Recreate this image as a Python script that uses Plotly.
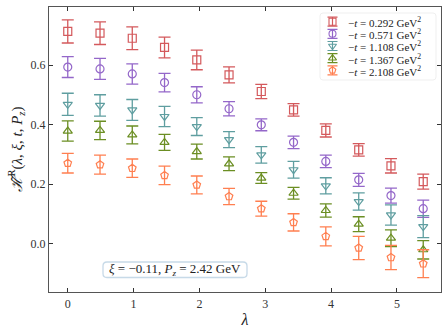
import plotly.graph_objects as go

lam = [0.0, 0.49, 0.98, 1.47, 1.96, 2.45, 2.94, 3.43, 3.92, 4.42, 4.91, 5.40]

labels = ["0.292", "0.571", "1.108", "1.367", "2.108"]

y_292 = [0.713, 0.707, 0.690, 0.659, 0.617, 0.567, 0.511, 0.449, 0.380, 0.315, 0.261, 0.208]
e_292 = [0.039, 0.038, 0.038, 0.035, 0.033, 0.027, 0.024, 0.021, 0.022, 0.021, 0.024, 0.025]

y_571 = [0.593, 0.587, 0.570, 0.541, 0.500, 0.453, 0.399, 0.340, 0.276, 0.214, 0.161, 0.117]
e_571 = [0.035, 0.035, 0.034, 0.031, 0.027, 0.024, 0.020, 0.021, 0.021, 0.022, 0.025, 0.029]

y_1108 = [0.468, 0.464, 0.449, 0.427, 0.393, 0.349, 0.298, 0.248, 0.194, 0.141, 0.096, 0.057]
e_1108 = [0.037, 0.036, 0.035, 0.034, 0.030, 0.027, 0.028, 0.028, 0.027, 0.029, 0.034, 0.037]

y_1367 = [0.378, 0.380, 0.365, 0.340, 0.309, 0.268, 0.220, 0.169, 0.111, 0.065, 0.018, -0.021]
e_1367 = [0.034, 0.031, 0.030, 0.027, 0.025, 0.023, 0.018, 0.020, 0.022, 0.025, 0.028, 0.031]

y_2108 = [0.270, 0.265, 0.253, 0.229, 0.197, 0.158, 0.117, 0.071, 0.024, -0.015, -0.047, -0.068]
e_2108 = [0.033, 0.032, 0.031, 0.031, 0.030, 0.027, 0.025, 0.029, 0.032, 0.039, 0.041, 0.047]

series = [y_292, y_571, y_1108, y_1367, y_2108]
errors = [e_292, e_571, e_1108, e_1367, e_2108]
colors = ["#d4595c", "#9467c9", "#5f9ea0", "#6b8e23", "#ff7f50"]
symbols = ["square-open", "circle-open", "triangle-down-open", "triangle-up-open", "pentagon-open"]

FONT = "Liberation Serif"
W, H = 448, 331
ML, MR, MT, MB = 49, 7, 7, 39

fig = go.Figure()
for lab, ys, es, c, s in zip(labels, series, errors, colors, symbols):
    fig.add_trace(go.Scatter(
        x=lam, y=ys, mode="markers", showlegend=False,
        name="\u2212t = " + lab + " GeV\u00b2",
        marker=dict(symbol=s, size=8, color=c, line=dict(width=1.2, color=c)),
        error_y=dict(type="data", array=es, visible=True, color=c, thickness=1.3, width=6),
    ))


def rounded_rect(x0, y0, x1, y1, r):
    return (f"M {x0+r},{y0} L {x1-r},{y0} Q {x1},{y0} {x1},{y0+r} "
            f"L {x1},{y1-r} Q {x1},{y1} {x1-r},{y1} L {x0+r},{y1} "
            f"Q {x0},{y1} {x0},{y1-r} L {x0},{y0+r} Q {x0},{y0} {x0+r},{y0} Z")


# overlay pixel-coordinate axes for the hand-drawn legend and the info box
px_left, px_right = ML, W - MR
px_top, px_bottom = MT, H - MB

shapes = [
    dict(type="path", xref="x2", yref="y2", path=rounded_rect(320, 13, 436, 80, 3),
         line=dict(color="#cccccc", width=1), fillcolor="rgba(255,255,255,0.85)", layer="below"),
    dict(type="path", xref="x2", yref="y2", path=rounded_rect(103, 262, 247, 277.5, 4),
         line=dict(color="#4a86b4", width=1.3), fillcolor="white", layer="below"),
]

annotations = [dict(
    x=175, y=269.8, xref="x2", yref="y2",
    text="<i>ξ</i> = \u22120.11, <i>P<sub>z</sub></i> = 2.42 GeV",
    showarrow=False, font=dict(family=FONT, size=13, color="#222222"),
)]

row_y = [21.7, 33.8, 46.0, 58.2, 70.3]
for lab, c, s, ry in zip(labels, colors, symbols, row_y):
    fig.add_trace(go.Scatter(
        x=[332.5], y=[ry], mode="markers", xaxis="x2", yaxis="y2", showlegend=False,
        hoverinfo="skip",
        marker=dict(symbol=s, size=7, color=c, line=dict(width=1.1, color=c)),
        error_y=dict(type="constant", value=4.5, visible=True, color=c, thickness=1.2, width=5),
    ))
    annotations.append(dict(
        x=346, y=ry + 0.3, xref="x2", yref="y2", xanchor="left", yanchor="middle",
        text="\u2212<i>t</i> = " + lab + " GeV<sup>2</sup>", showarrow=False,
        font=dict(family=FONT, size=11, color="#222222"),
    ))

axis_common = dict(
    showline=True, linecolor="#555555", linewidth=1.3, mirror="ticks",
    ticks="inside", ticklen=4, tickwidth=1, tickcolor="#333333",
    showgrid=False, zeroline=False, automargin=False,
    tickfont=dict(family=FONT, size=12, color="#333333"),
)

fig.update_layout(
    template="simple_white",
    width=W, height=H,
    margin=dict(l=ML, r=MR, t=MT, b=MB),
    paper_bgcolor="white", plot_bgcolor="white",
    font=dict(family=FONT, color="#222222"),
    xaxis=dict(range=[-0.285, 5.67], tickvals=[0, 1, 2, 3, 4, 5],
               title=dict(text="<i>λ</i>", font=dict(family=FONT, size=16), standoff=4),
               **axis_common),
    yaxis=dict(range=[-0.163, 0.795], tickvals=[0.0, 0.2, 0.4, 0.6],
               tickformat=".1f",
               title=dict(text="<i>ℋ̃</i><sup>R</sup>(<i>λ</i>, <i>ξ</i>, <i>t</i>, <i>P<sub>z</sub></i>)",
                          font=dict(family=FONT, size=15), standoff=4),
               **axis_common),
    xaxis2=dict(overlaying="x", range=[px_left, px_right], visible=False, fixedrange=True),
    yaxis2=dict(overlaying="y", range=[px_bottom, px_top], visible=False, fixedrange=True),
    showlegend=False,
    hovermode=False,
    shapes=shapes,
    annotations=annotations,
)

fig.write_html("out.html", config={"displayModeBar": False},
               post_script="document.body.style.margin='0';document.body.style.padding='0';")
